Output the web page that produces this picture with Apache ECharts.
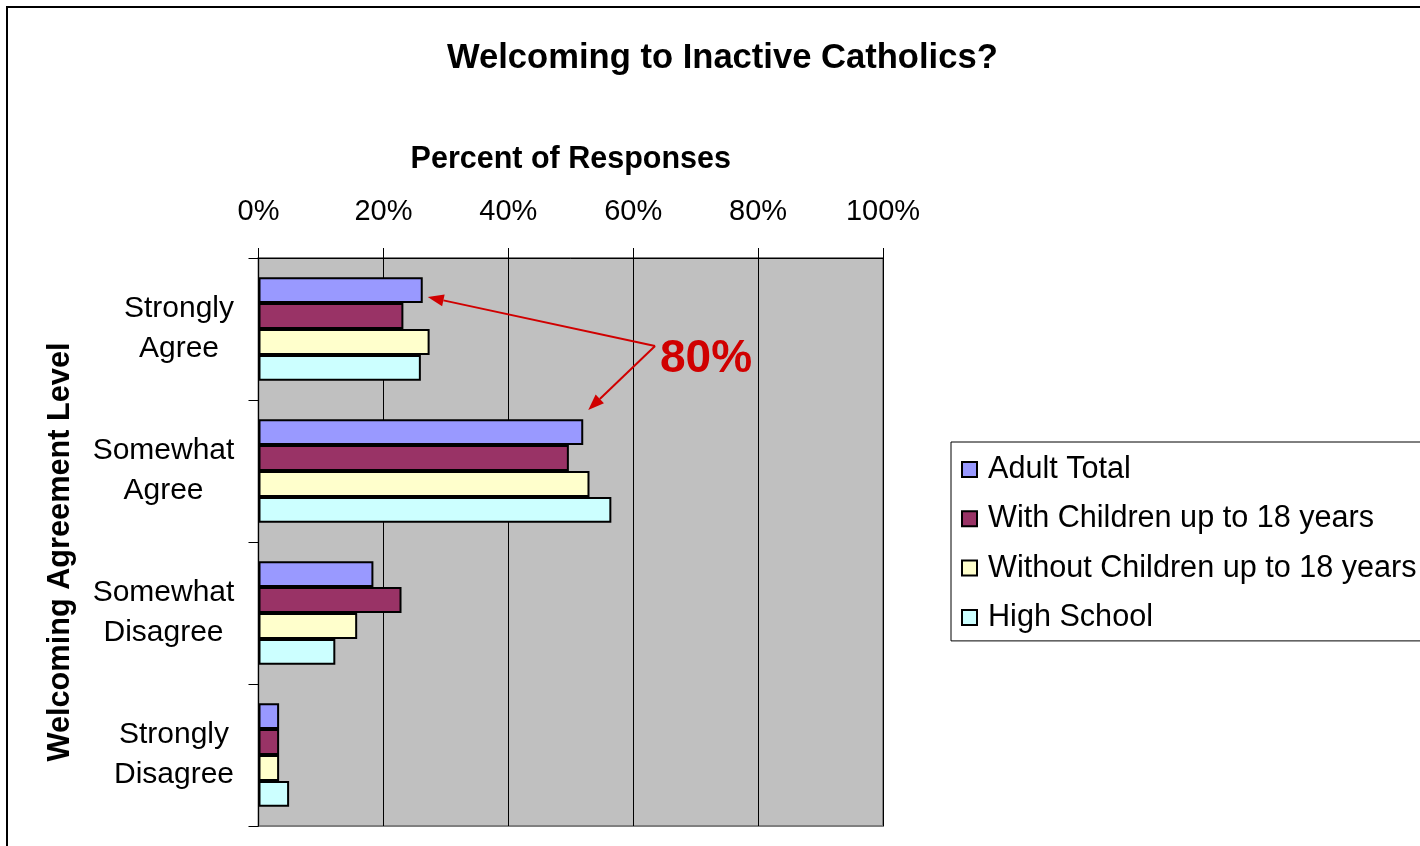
<!DOCTYPE html>
<html>
<head>
<meta charset="utf-8">
<script src="https://cdn.jsdelivr.net/npm/echarts@6/dist/echarts.min.js"></script>
<style>
html,body{margin:0;padding:0;background:#fff;}
#c{width:1420px;height:846px;}
</style>
</head>
<body>
<div id="c"></div>
<script>
const categories = ['Strongly\nAgree', 'Somewhat\nAgree', 'Somewhat\nDisagree', 'Strongly\nDisagree'];
const seriesNames = ['Adult Total', 'With Children up to 18 years', 'Without Children up to 18 years', 'High School'];
const adultTotal = [26.3, 52.0, 18.4, 3.3];
const withChildren = [23.2, 49.7, 22.9, 3.3];
const withoutChildren = [27.4, 53.0, 15.8, 3.3];
const highSchool = [26.0, 56.5, 12.3, 4.9];
const xTicks = [0, 20, 40, 60, 80, 100];
const annotationText = '80%';

const colors = ['#9999FF', '#993366', '#FFFFCC', '#CCFFFF'];
const values = [adultTotal, withChildren, withoutChildren, highSchool];
const FONT = '"Liberation Sans", Arial, sans-serif';
const LABEL_SIZE = 30;

// measure label line widths so each two-line label is centred within its own block
const mctx = document.createElement('canvas').getContext('2d');
mctx.font = LABEL_SIZE + 'px ' + FONT;
const rich = {};
categories.forEach((c, i) => {
  const w = Math.max(...c.split('\n').map(s => mctx.measureText(s).width));
  rich['c' + i] = {width: Math.ceil(w), align: 'center', fontFamily: FONT, fontSize: LABEL_SIZE, lineHeight: 40, color: '#000'};
});

const chart = echarts.init(document.getElementById('c'), null, {renderer: 'canvas'});

const option = {
  animation: false,
  backgroundColor: '#fff',
  textStyle: {fontFamily: FONT, color: '#000'},
  title: {
    text: 'Welcoming to Inactive Catholics?',
    left: 442, top: 36,
    textStyle: {fontFamily: FONT, fontSize: 34.6, fontWeight: 'bold', color: '#000'}
  },
  legend: {
    orient: 'vertical',
    left: 951, top: 442,
    padding: [12, 10, 8, 10],
    itemGap: 18.3,
    itemWidth: 15, itemHeight: 15,
    icon: 'rect',
    borderColor: '#000', borderWidth: 1,
    backgroundColor: '#fff',
    textStyle: {fontFamily: FONT, fontSize: 30.6, lineHeight: 30, color: '#000', padding: [0, 0, 0, 6]},
    data: seriesNames
  },
  grid: {
    left: 258.5, right: 537, top: 258, bottom: 20,
    show: true, backgroundColor: '#C0C0C0',
    borderColor: '#808080', borderWidth: 2
  },
  xAxis: {
    type: 'value', position: 'top',
    min: 0, max: 100, interval: 20,
    name: 'Percent of Responses', nameLocation: 'middle', nameGap: 83,
    nameTextStyle: {fontFamily: FONT, fontSize: 30.5, fontWeight: 'bold', color: '#000'},
    axisLine: {show: true, lineStyle: {color: '#000', width: 1}},
    axisTick: {show: true, length: 10, lineStyle: {color: '#000'}},
    axisLabel: {fontFamily: FONT, fontSize: 29, color: '#000', margin: 32,
      formatter: v => xTicks.includes(v) ? v + '%' : ''},
    splitLine: {show: true, lineStyle: {color: '#000', width: 1}}
  },
  yAxis: {
    type: 'category', inverse: true, data: categories,
    name: 'Welcoming Agreement Level', nameLocation: 'middle', nameGap: 182,
    nameTextStyle: {fontFamily: FONT, fontSize: 30.7, fontWeight: 'bold', color: '#000', padding: [0, 20, 0, 0]},
    axisLine: {show: true, lineStyle: {color: '#000', width: 1}},
    axisTick: {show: true, length: 10, lineStyle: {color: '#000'}},
    axisLabel: {fontFamily: FONT, fontSize: LABEL_SIZE, color: '#000', margin: 24, lineHeight: 40, align: 'right',
      formatter: (v, i) => v.split('\n').map(s => '{c' + i + '|' + s + '}').join('\n'),
      rich: rich}
  },
  series: seriesNames.map((n, i) => ({
    name: n, type: 'bar', data: values[i],
    barGap: '0%', barCategoryGap: '27%',
    itemStyle: {color: colors[i], borderColor: '#000', borderWidth: 2}
  }))
};
chart.setOption(option);

// Annotation arrows anchored to the axes
function px(v) { return chart.convertToPixel({xAxisIndex: 0}, v); }
function cy(i) { return chart.convertToPixel({yAxisIndex: 0}, i); }

const start = [px(63.5), cy(0) + 17];
const tips = [
  [px(adultTotal[0]) + 5, cy(0) - 32],
  [px(adultTotal[1]) + 5, cy(1) - 61]
];
const red = '#D00000';
const g = [];
tips.forEach(t => {
  const dx = t[0] - start[0], dy = t[1] - start[1];
  const L = Math.sqrt(dx*dx + dy*dy);
  const ux = dx / L, uy = dy / L;
  const hl = 16, hw = 6;
  const bx = t[0] - ux*hl, by = t[1] - uy*hl;
  g.push({type: 'line', shape: {x1: start[0], y1: start[1], x2: bx, y2: by},
    style: {stroke: red, lineWidth: 2}, z: 100});
  g.push({type: 'polygon', shape: {points: [[t[0], t[1]], [bx - uy*hw, by + ux*hw], [bx + uy*hw, by - ux*hw]]},
    style: {fill: red}, z: 100});
});
g.push({type: 'text', left: 660, top: cy(0) + 30 - 23,
  style: {text: annotationText, fill: red, font: 'bold 46px ' + FONT}, z: 100});
g.push({type: 'rect', shape: {x: 7, y: 7, width: 1420, height: 846},
  style: {fill: 'none', stroke: '#000', lineWidth: 2}, z: 100});
chart.setOption({graphic: g});
</script>
</body>
</html>
